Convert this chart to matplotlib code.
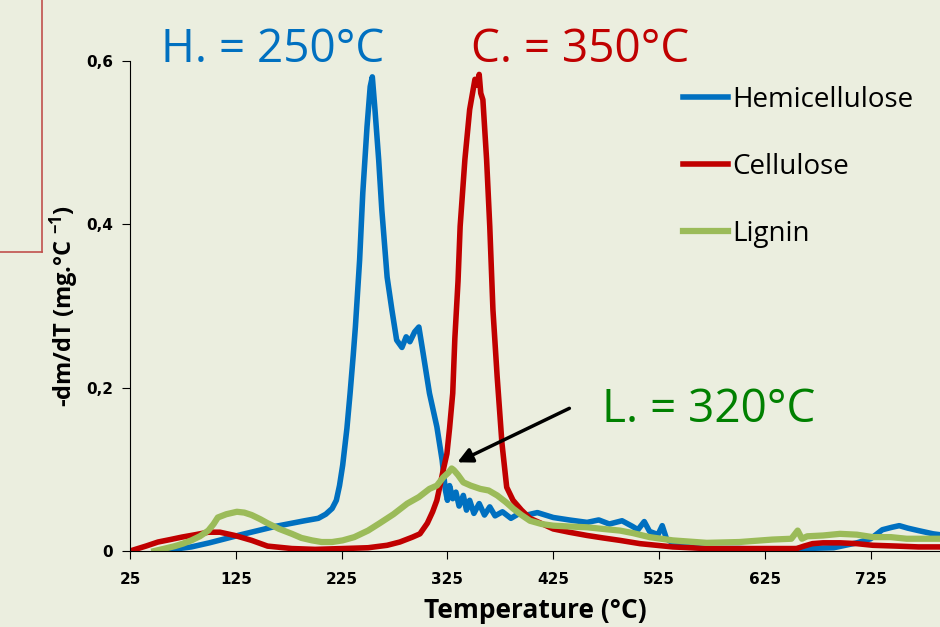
import matplotlib.pyplot as plt
from matplotlib.lines import Line2D

# values (temperature in deg C, -dm/dT)
hemi_t = [51, 65, 83, 100, 115, 130, 146, 162, 178, 190, 203, 210, 216, 220, 223, 226,
          230, 233, 236, 238, 242, 245, 249, 252, 254, 256.5, 260, 263, 268, 272.5, 277,
          282, 286, 289.5, 294, 298, 302, 308, 315, 320, 323, 325, 327, 330, 333, 336,
          340, 343, 346, 350, 355, 360, 365, 370, 377, 385, 393, 400, 410, 425, 440,
          457, 468, 478, 490, 500, 505, 511, 516, 520, 524, 528, 532, 540, 554, 570,
          600, 630, 660, 690, 712, 725, 736, 745, 752, 760, 770, 784, 790]
hemi_v = [0.0, 0.002, 0.005, 0.010, 0.015, 0.020, 0.025, 0.030, 0.034, 0.037, 0.040,
          0.045, 0.052, 0.062, 0.080, 0.105, 0.150, 0.193, 0.240, 0.274, 0.356, 0.438,
          0.519, 0.568, 0.580, 0.540, 0.479, 0.417, 0.335, 0.295, 0.258, 0.249, 0.262,
          0.256, 0.268, 0.274, 0.242, 0.193, 0.152, 0.111, 0.075, 0.062, 0.080, 0.064,
          0.072, 0.055, 0.068, 0.050, 0.062, 0.046, 0.058, 0.044, 0.054, 0.043, 0.048,
          0.040, 0.046, 0.044, 0.047, 0.041, 0.038, 0.035, 0.038, 0.033, 0.037, 0.030,
          0.026, 0.036, 0.024, 0.022, 0.020, 0.031, 0.015, 0.008, 0.005, 0.003, 0.003,
          0.002, 0.003, 0.004, 0.010, 0.015, 0.026, 0.029, 0.031, 0.028, 0.025, 0.021,
          0.020]

cell_t = [25, 40, 51.5, 63, 74, 87, 99, 110, 124, 140, 155, 178, 200, 226, 250, 268,
          280, 292, 299, 306, 311, 315, 318, 321, 324.5, 327, 330, 332, 335, 337,
          341.5, 346, 351, 353, 355, 356.5, 358.5, 362, 365, 368, 372, 376.5, 381, 387,
          395, 403, 415, 425, 440, 457, 472, 488, 507, 538, 570, 600, 630, 655, 662,
          670, 680, 696, 712, 727, 750, 770, 790]
cell_v = [0.0, 0.006, 0.011, 0.014, 0.017, 0.020, 0.023, 0.023, 0.019, 0.013, 0.006,
          0.003, 0.002, 0.003, 0.004, 0.007, 0.011, 0.017, 0.021, 0.034, 0.048, 0.062,
          0.080, 0.099, 0.119, 0.150, 0.193, 0.260, 0.330, 0.397, 0.479, 0.540, 0.577,
          0.570, 0.583, 0.560, 0.552, 0.479, 0.397, 0.295, 0.213, 0.132, 0.078, 0.062,
          0.050, 0.040, 0.033, 0.027, 0.023, 0.019, 0.016, 0.013, 0.009, 0.005, 0.003,
          0.003, 0.003, 0.003, 0.006, 0.009, 0.010, 0.010, 0.009, 0.007, 0.006, 0.005,
          0.005]

lig_t = [48, 58, 67.5, 75, 83, 91, 99, 104, 108, 116, 126, 133, 140, 148, 155, 166,
         178, 187, 197, 206, 216, 226, 237, 250, 261, 274, 287, 298, 308, 315, 321,
         326, 329, 331, 335, 340, 347, 356, 364, 372, 380, 387, 395, 403, 414, 425,
         440, 457, 472, 488, 500, 516, 538, 570, 601, 632, 650, 656, 660, 665, 680,
         696, 712, 727, 744, 759, 775, 790]
lig_v = [0.0, 0.003, 0.006, 0.009, 0.013, 0.018, 0.025, 0.033, 0.041, 0.045, 0.048,
         0.047, 0.044, 0.039, 0.034, 0.027, 0.021, 0.016, 0.013, 0.011, 0.011, 0.013,
         0.017, 0.025, 0.034, 0.045, 0.058, 0.066, 0.076, 0.080, 0.090, 0.096, 0.101,
         0.099, 0.093, 0.084, 0.080, 0.076, 0.074, 0.068, 0.060, 0.052, 0.044, 0.037,
         0.033, 0.031, 0.030, 0.029, 0.027, 0.025, 0.022, 0.017, 0.013, 0.010, 0.011,
         0.014, 0.015, 0.025, 0.015, 0.018, 0.019, 0.021, 0.020, 0.017, 0.017, 0.015,
         0.015, 0.015]

x_ticks = [25, 125, 225, 325, 425, 525, 625, 725]
y_ticks = [0, 0.2, 0.4, 0.6]
y_labels = ['0', '0,2', '0,4', '0,6']

bg = '#EBEEDF'
blue, red, green = '#0070C0', '#C00000', '#9BBB59'

plt.rcParams['mathtext.fontset'] = 'custom'
plt.rcParams['mathtext.rm'] = 'Open Sans:bold'
plt.rcParams['mathtext.it'] = 'Open Sans:bold'
plt.rcParams['mathtext.bf'] = 'Open Sans:bold'

fig = plt.figure(figsize=(9.4, 6.27), dpi=100, facecolor=bg)
ax = fig.add_axes([0.1383, 0.1212, 0.8617, 0.7823], facecolor=bg)

ax.plot(hemi_t, hemi_v, color=blue, lw=4.0, label='Hemicellulose', solid_joinstyle='round')
ax.plot(cell_t, cell_v, color=red, lw=4.0, label='Cellulose', solid_joinstyle='round')
ax.plot(lig_t, lig_v, color=green, lw=4.5, label='Lignin', solid_joinstyle='round')

ax.set_xlim(25, 790.5)
ax.set_ylim(0, 0.6)
ax.set_xticks(x_ticks)
ax.set_xticklabels([str(t) for t in x_ticks], fontweight='bold', fontsize=11)
ax.set_yticks(y_ticks)
ax.set_yticklabels(y_labels, fontweight='bold', fontsize=11)
ax.tick_params(axis='x', direction='out', length=6, pad=9)
ax.tick_params(axis='y', direction='out', length=6, pad=6)
for s in ['top', 'right']:
    ax.spines[s].set_visible(False)
ax.set_xlabel('Temperature (°C)', fontsize=19, fontweight='bold', family='Open Sans', labelpad=7)
ax.set_ylabel('-dm/dT (mg.°C $^{-1}$)', fontsize=17, fontweight='bold', family='Open Sans', labelpad=4)

ax.text(159.6, 0.613, 'H. = 250°C', color=blue, fontsize=33, ha='center', va='center',
        family='Open Sans', clip_on=False)
ax.text(450, 0.613, 'C. = 350°C', color=red, fontsize=33, ha='center', va='center',
        family='Open Sans', clip_on=False)
ax.text(572, 0.172, 'L. = 320°C', color='#008000', fontsize=33, ha='center', va='center',
        family='Open Sans')

ax.annotate('', xy=(332, 0.107), xytext=(442.6, 0.176),
            arrowprops=dict(arrowstyle='-|>', color='black', lw=2.5, mutation_scale=22))

leg = ax.legend(loc='upper left', bbox_to_anchor=(0.683, 0.948), frameon=False,
                borderpad=0, borderaxespad=0, handlelength=1.6, handletextpad=0.15,
                labelspacing=1.4, prop={'family': 'Open Sans', 'size': 20})

# decorative slide frame line at top-left
fig.add_artist(Line2D([42 / 940, 42 / 940], [1, 1 - 252 / 627], color='#C0504D', lw=1.2))
fig.add_artist(Line2D([0, 42 / 940], [1 - 252 / 627, 1 - 252 / 627], color='#C0504D', lw=1.2))

fig.savefig('out.png', dpi=100, facecolor=bg)
